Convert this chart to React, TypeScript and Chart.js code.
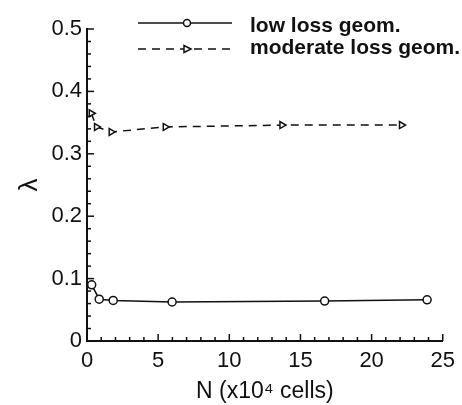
import React, { useEffect, useRef } from "react";
import { Chart, registerables } from "chart.js";

Chart.register(...registerables);

const lowLossX = [0.33, 0.86, 1.84, 5.98, 16.7, 23.9];
const lowLossY = [0.09, 0.067, 0.065, 0.0625, 0.064, 0.066];
const modLossX = [0.3, 0.67, 1.7, 5.5, 13.7, 22.1];
const modLossY = [0.365, 0.343, 0.335, 0.343, 0.346, 0.346];
const seriesNames = ["low loss geom.", "moderate loss geom."];
const xTitle = "N (x10\u2074 cells)";
const yTitle = "\u03bb";

const FONT = "'Liberation Sans', Arial, sans-serif";

const inwardTicks = {
  id: "inwardTicks",
  afterDatasetsDraw(chart: any) {
    const { ctx, chartArea, scales } = chart;
    const xs = scales.x;
    const ys = scales.y;
    ctx.save();
    ctx.strokeStyle = "#111";
    ctx.lineWidth = 1.5;
    for (let v = 0; v <= 25; v += 1) {
      const px = xs.getPixelForValue(v);
      const len = v % 5 === 0 ? 7 : 4;
      ctx.beginPath();
      ctx.moveTo(px, chartArea.bottom);
      ctx.lineTo(px, chartArea.bottom - len);
      ctx.stroke();
    }
    for (let i = 0; i <= 25; i++) {
      const v = i * 0.02;
      const py = ys.getPixelForValue(v);
      const len = i % 5 === 0 ? 7 : 4;
      ctx.beginPath();
      ctx.moveTo(chartArea.left, py);
      ctx.lineTo(chartArea.left + len, py);
      ctx.stroke();
    }
    ctx.restore();
  },
};

const customLegend = {
  id: "customLegend",
  afterDraw(chart: any) {
    const { ctx } = chart;
    ctx.save();
    const rows = [
      { y: 23, ty: 31.5, dash: [] as number[], marker: "circle", label: seriesNames[0] },
      { y: 49, ty: 54, dash: [8, 6], marker: "triangle", label: seriesNames[1] },
    ];
    rows.forEach((r) => {
      ctx.strokeStyle = "#111";
      ctx.lineWidth = 1.5;
      ctx.setLineDash(r.dash);
      ctx.beginPath();
      ctx.moveTo(138, r.y);
      ctx.lineTo(232, r.y);
      ctx.stroke();
      ctx.setLineDash([]);
      ctx.fillStyle = "#fff";
      ctx.beginPath();
      if (r.marker === "circle") {
        ctx.arc(187, r.y, 3.5, 0, Math.PI * 2);
      } else {
        ctx.moveTo(191, r.y);
        ctx.lineTo(184, r.y - 3.5);
        ctx.lineTo(184, r.y + 3.5);
        ctx.closePath();
      }
      ctx.fill();
      ctx.stroke();
      ctx.fillStyle = "#111";
      ctx.font = `bold 21px ${FONT}`;
      ctx.textBaseline = "alphabetic";
      ctx.textAlign = "left";
      ctx.fillText(r.label, 250, r.ty);
    });
    ctx.restore();
  },
};

export default function App() {
  const ref = useRef<HTMLCanvasElement | null>(null);
  useEffect(() => {
    if (!ref.current) return;
    const chart = new Chart(ref.current, {
      type: "line",
      data: {
        datasets: [
          {
            label: seriesNames[0],
            data: lowLossX.map((x, i) => ({ x, y: lowLossY[i] })),
            borderColor: "#111",
            borderWidth: 1.5,
            pointStyle: "circle",
            pointRadius: 4,
            pointBackgroundColor: "#fff",
            pointBorderColor: "#111",
            pointBorderWidth: 1.5,
            tension: 0,
          },
          {
            label: seriesNames[1],
            data: modLossX.map((x, i) => ({ x, y: modLossY[i] })),
            borderColor: "#111",
            borderWidth: 1.5,
            borderDash: [8, 6],
            pointStyle: "triangle",
            rotation: 90,
            pointRadius: 4,
            pointBackgroundColor: "#fff",
            pointBorderColor: "#111",
            pointBorderWidth: 1.5,
            tension: 0,
          },
        ],
      },
      plugins: [inwardTicks, customLegend],
      options: {
        animation: false,
        responsive: false,
        layout: { padding: { top: 29, right: 17, left: 0, bottom: 0 } },
        plugins: { legend: { display: false }, tooltip: { enabled: false } },
        scales: {
          x: {
            type: "linear",
            min: 0,
            max: 25,
            afterFit: (s: any) => {
              s.height = 64;
            },
            ticks: {
              stepSize: 5,
              color: "#111",
              font: { family: FONT, size: 22 },
              padding: 7,
              maxRotation: 0,
            },
            grid: { display: false, drawTicks: false },
            border: { display: true, color: "#111", width: 2 },
            title: {
              display: true,
              text: xTitle,
              color: "#111",
              font: { family: FONT, size: 23 },
              padding: { top: 0, bottom: 0 },
            },
          },
          y: {
            type: "linear",
            min: 0,
            max: 0.5,
            afterFit: (s: any) => {
              s.width = 87;
            },
            ticks: {
              stepSize: 0.1,
              color: "#111",
              font: { family: FONT, size: 22 },
              padding: 5,
              callback: (v: any) => (v === 0 ? "0" : Number(v).toFixed(1)),
            },
            grid: { display: false, drawTicks: false },
            border: { display: true, color: "#111", width: 2 },
            title: {
              display: true,
              text: yTitle,
              color: "#111",
              font: { family: FONT, size: 26 },
              padding: { top: 14, bottom: 0 },
            },
          },
        },
      },
    });
    return () => chart.destroy();
  }, []);
  return (
    <div style={{ position: "fixed", left: 0, top: 0, width: 462, height: 405, background: "#fff" }}>
      <canvas ref={ref} width={462} height={405} style={{ width: 462, height: 405 }} />
    </div>
  );
}
